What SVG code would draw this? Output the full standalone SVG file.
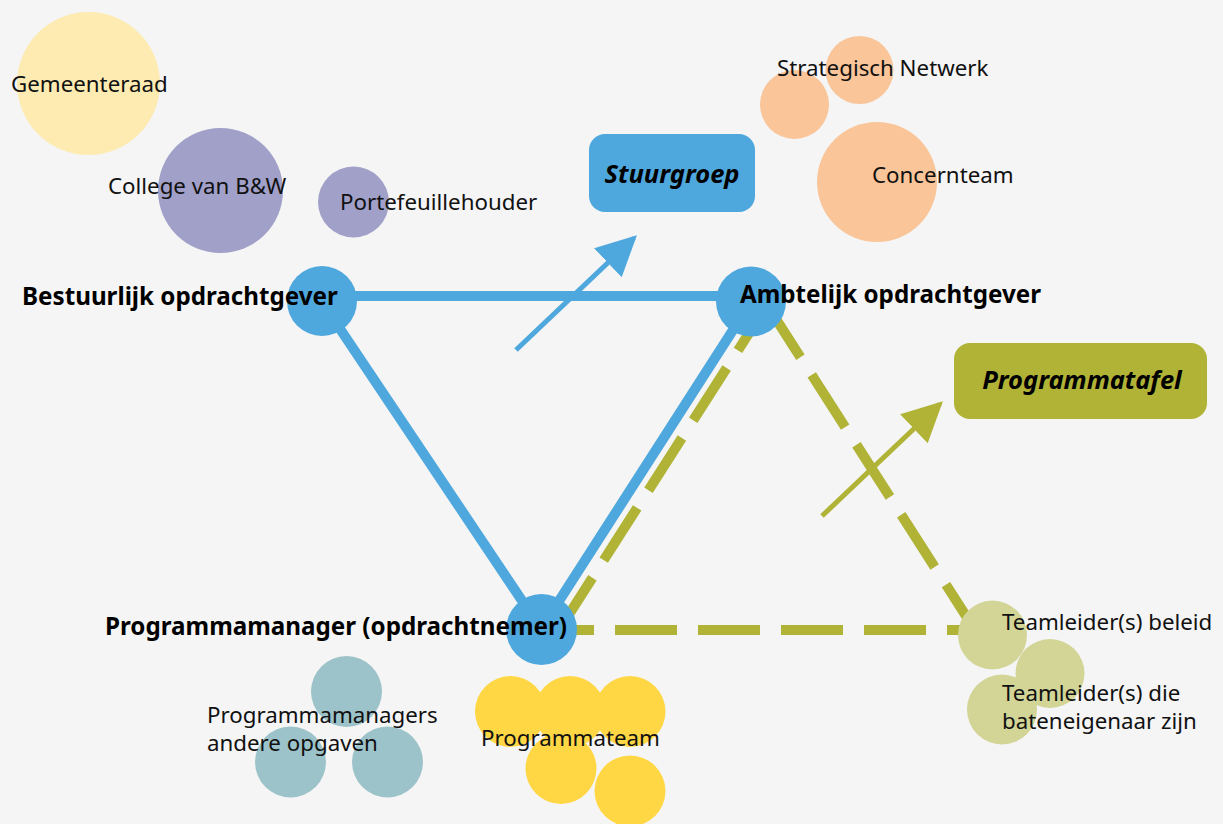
<svg xmlns="http://www.w3.org/2000/svg" width="1223" height="824" viewBox="0 0 1223 824">
<defs>
<style>
.t{font-family:"Noto Sans","Open Sans",sans-serif;font-size:22.3px;fill:#111}
.b{font-family:"Noto Sans","Open Sans",sans-serif;font-size:24.2px;font-weight:bold;fill:#000}
.bi{font-family:"Noto Sans","Open Sans",sans-serif;font-size:25.5px;font-weight:bold;font-style:italic;fill:#000}
.blue{fill:#4ea8dd}
.bl{stroke:#4ea8dd;stroke-width:10;fill:none}
.gd{stroke:#b0b335;stroke-width:10;fill:none;stroke-dasharray:62 21}
.ar{stroke-width:5;fill:none}
</style>
<marker id="ab" viewBox="0 0 10 10" refX="9" refY="5" markerWidth="8" markerHeight="8" markerUnits="strokeWidth" orient="auto"><path d="M0,0 L10,5 L0,10 Z" fill="#4ea8dd"/></marker>
<marker id="ag" viewBox="0 0 10 10" refX="9" refY="5" markerWidth="8" markerHeight="8" markerUnits="strokeWidth" orient="auto"><path d="M0,0 L10,5 L0,10 Z" fill="#b0b335"/></marker>
</defs>
<rect width="1223" height="824" fill="#f5f5f5"/>
<g id="connectors">
<line class="gd" x1="559" y1="630" x2="767" y2="305"/>
<line class="gd" x1="767" y1="305" x2="975" y2="630"/>
<line class="gd" x1="532" y1="630" x2="992" y2="630"/>
<line class="bl" x1="322" y1="296" x2="751" y2="296" stroke-width="11"/>
<line class="bl" x1="322" y1="302" x2="541" y2="629"/>
<line class="bl" x1="751" y1="302" x2="541" y2="629"/>
<line class="ar" stroke="#4ea8dd" x1="516" y1="350" x2="634" y2="238" marker-end="url(#ab)"/>
<line class="ar" stroke="#b0b335" x1="822" y1="516" x2="940" y2="404" marker-end="url(#ag)"/>
</g>
<g id="gemeenteraad"><circle cx="88.5" cy="83.5" r="71.5" fill="#fdebb1"/><text class="t" x="11" y="92">Gemeenteraad</text></g>
<g id="college"><circle cx="220.5" cy="190.5" r="62.5" fill="#a0a0c9"/><text class="t" x="108" y="194">College van B&amp;W</text></g>
<g id="portefeuillehouder"><circle cx="353.5" cy="202" r="35.5" fill="#a0a0c9"/><text class="t" x="340" y="210">Portefeuillehouder</text></g>
<g id="strategisch-netwerk"><circle cx="794.5" cy="104.5" r="34.5" fill="#f9c599"/><circle cx="859.5" cy="70" r="34" fill="#f9c599"/><text class="t" x="777" y="76">Strategisch Netwerk</text></g>
<g id="concernteam"><circle cx="877" cy="182" r="60" fill="#f9c599"/><text class="t" x="872" y="183">Concernteam</text></g>
<g id="stuurgroep"><rect x="589" y="134" width="166" height="78" rx="16" class="blue"/><text class="bi" x="672" y="183" text-anchor="middle">Stuurgroep</text></g>
<g id="programmatafel"><rect x="954" y="343" width="253" height="76" rx="16" fill="#b0b335"/><text class="bi" x="1082" y="389" text-anchor="middle">Programmatafel</text></g>
<g id="bestuurlijk"><circle cx="322" cy="301" r="35" class="blue"/><text class="b" x="22" y="305">Bestuurlijk opdrachtgever</text></g>
<g id="ambtelijk"><circle cx="751" cy="301.5" r="35" class="blue"/><text class="b" x="740" y="303">Ambtelijk opdrachtgever</text></g>
<g id="programmamanager"><circle cx="541.5" cy="629.5" r="35.5" class="blue"/><text class="b" x="105" y="635">Programmamanager (opdrachtnemer)</text></g>
<g id="programmamanagers"><circle cx="346.5" cy="691.5" r="35.5" fill="#9cc3c9"/><circle cx="290.5" cy="762" r="35.5" fill="#9cc3c9"/><circle cx="387.5" cy="762" r="35.5" fill="#9cc3c9"/><text class="t" x="207" y="723">Programmamanagers</text><text class="t" x="207" y="751">andere opgaven</text></g>
<g id="programmateam"><circle cx="510.5" cy="711.5" r="35.5" fill="#ffd745"/><circle cx="570" cy="711.5" r="35.5" fill="#ffd745"/><circle cx="630" cy="711.5" r="35.5" fill="#ffd745"/><circle cx="561" cy="768.5" r="35.5" fill="#ffd745"/><circle cx="630" cy="791" r="35.5" fill="#ffd745"/><text class="t" x="481" y="746">Programmateam</text></g>
<g id="teamleider-beleid"><circle cx="992.5" cy="635" r="34.5" fill="#d3d597"/><text class="t" x="1002" y="630">Teamleider(s) beleid</text></g>
<g id="teamleider-baten"><circle cx="1050" cy="673.5" r="34.5" fill="#d3d597"/><circle cx="1002" cy="709.5" r="35" fill="#d3d597"/><text class="t" x="1002" y="701">Teamleider(s) die</text><text class="t" x="1002" y="729">bateneigenaar zijn</text></g>
</svg>
